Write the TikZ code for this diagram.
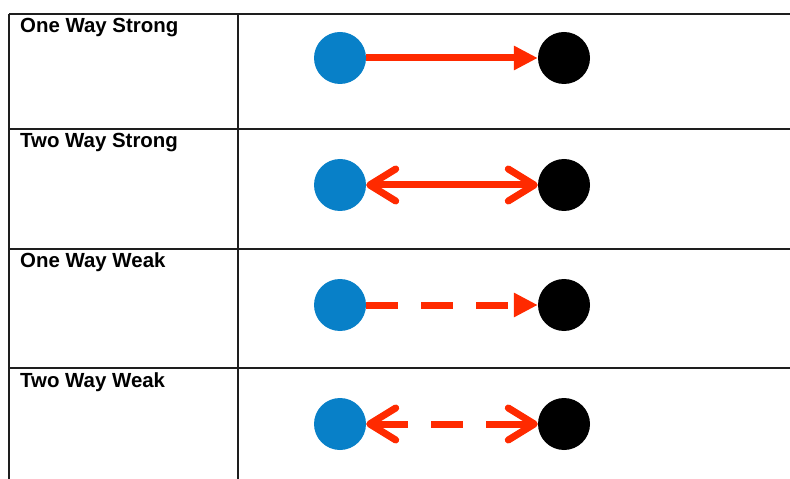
\documentclass[tikz,border=0pt]{standalone}
\usepackage{fontspec}
\setmainfont{Liberation Sans}
\usetikzlibrary{arrows.meta}
\definecolor{dotblue}{RGB}{8,128,200}
\definecolor{linkred}{RGB}{255,42,0}
\definecolor{rulegray}{RGB}{30,30,30}
\tikzset{
  rule/.style={draw=rulegray, line width=1.3bp},
  rowlabel/.style={anchor=base west, inner sep=0pt, font=\bfseries\fontsize{20.5}{24}\selectfont},
  srcdot/.style={circle, fill=dotblue, minimum size=52bp, inner sep=0pt},
  dstdot/.style={circle, fill=black, minimum size=52bp, inner sep=0pt},
  link/.style={draw=linkred, line width=7bp},
  solidhead/.style={-{Triangle[length=24bp,width=23bp]}},
  barbs/.style={{Straight Barb[length=26bp,width=32bp,line cap=round,line join=round]}-{Straight Barb[length=26bp,width=32bp,line cap=round,line join=round]}},
}
\begin{document}
\begin{tikzpicture}[x=1bp, y=-1bp]
  \useasboundingbox (0,0) rectangle (790,479);
  % table rules
  \foreach \ry in {14,129,249,368} \draw[rule] (9,\ry) -- (790,\ry);
  \draw[rule] (9,14) -- (9,479);
  \draw[rule] (238,14) -- (238,479);
  % row labels
  \node[rowlabel] (l1) at (20,33) {One Way Strong};
  \node[rowlabel] (l2) at (20,148) {Two Way Strong};
  \node[rowlabel] (l3) at (20,268) {One Way Weak};
  \node[rowlabel] (l4) at (20,387) {Two Way Weak};
  % endpoints
  \node[srcdot] (a1) at (340,58) {};
  \node[dstdot] (b1) at (564,58) {};
  \node[srcdot] (a2) at (340,185) {};
  \node[dstdot] (b2) at (564,185) {};
  \node[srcdot] (a3) at (340,305) {};
  \node[dstdot] (b3) at (564,305) {};
  \node[srcdot] (a4) at (340,424) {};
  \node[dstdot] (b4) at (564,424) {};
  % connectors
  \draw[link, solidhead] (a1) -- (b1);
  \draw[link, barbs] (a2) -- (b2);
  \draw[link, solidhead, dash pattern=on 32bp off 23bp] (a3) -- (b3);
  \draw[link, barbs, dash pattern=on 35bp off 23bp on 32bp off 23bp on 100bp] (a4) -- (b4);
\end{tikzpicture}
\end{document}
